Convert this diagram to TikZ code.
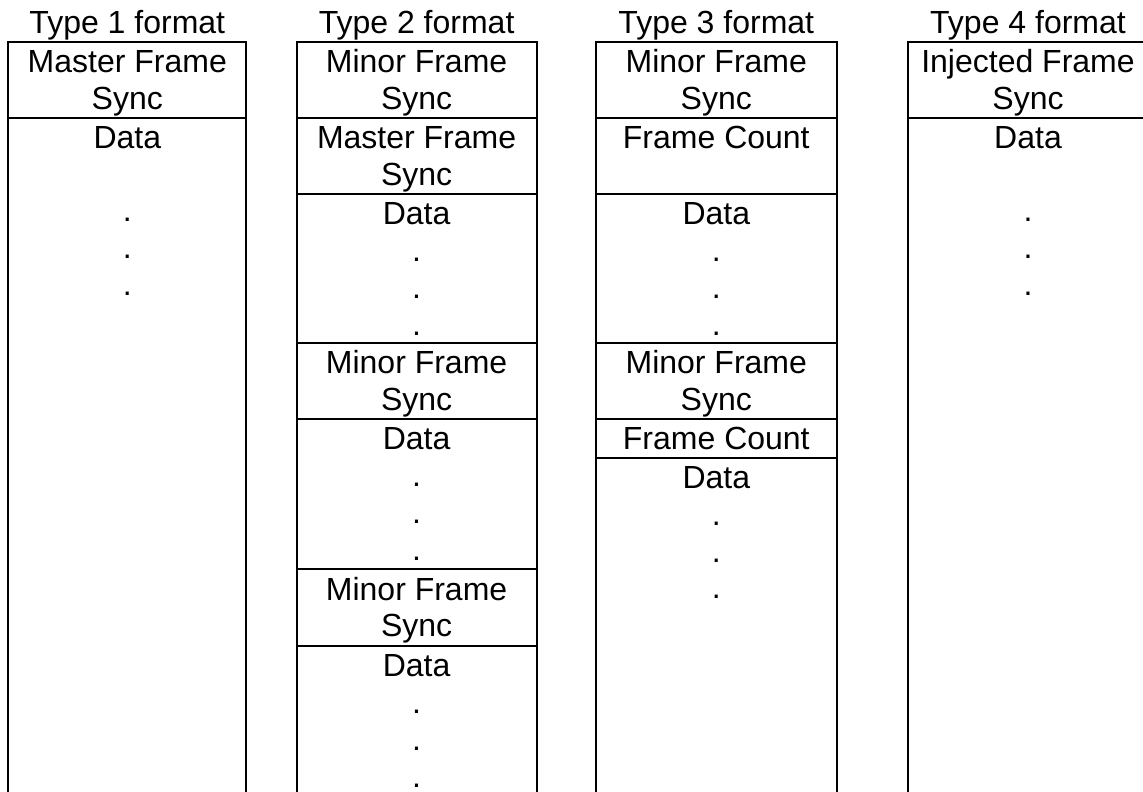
\documentclass[tikz,border=0pt]{standalone}
\usepackage{fontspec}
\setmainfont{Liberation Sans}
\begin{document}
\begin{tikzpicture}[x=1pt,y=-1pt,
  frame/.style={line width=2pt, line cap=rect},
  txt/.style={anchor=north, inner sep=0pt, outer sep=0pt, align=center,
    font=\fontsize{32}{36.8}\selectfont, yshift=-4.94pt},
  head/.style={anchor=north, inner sep=0pt, outer sep=0pt, align=center,
    font=\fontsize{32}{36.8}\selectfont, yshift=-7.6pt}]
\useasboundingbox (0,0) rectangle (1143,792);
\clip (0,0) rectangle (1143,792);
% headings
\node[head] (h1) at (127.3,0) {\strut Type 1 format};
\node[head] (h2) at (416.6,0) {\strut Type 2 format};
\node[head] (h3) at (716.3,0) {\strut Type 3 format};
\node[head] (h4) at (1028,0) {\strut Type 4 format};
% column 1
\draw[frame] (8.3,800) -- (8.3,41.7) -- (246.3,41.7) -- (246.3,800);
\draw[frame] (8.3,117.5) -- (246.3,117.5);
\node[txt] (c1a) at (127.3,41.7) {\strut Master Frame\\\strut Sync};
\node[txt] (c1b) at (127.3,117.5) {\strut Data\\\strut\\\strut.\\\strut.\\\strut.};
% column 2
\draw[frame] (296.7,800) -- (296.7,41.7) -- (536.5,41.7) -- (536.5,800);
\foreach \yy in {117.5,194,342.7,419,569.3,646}
  \draw[frame] (296.7,\yy) -- (536.5,\yy);
\node[txt] (c2a) at (416.6,41.7) {\strut Minor Frame\\\strut Sync};
\node[txt] (c2b) at (416.6,117.5) {\strut Master Frame\\\strut Sync};
\node[txt] (c2c) at (416.6,194) {\strut Data\\\strut.\\\strut.\\\strut.};
\node[txt] (c2d) at (416.6,342.7) {\strut Minor Frame\\\strut Sync};
\node[txt] (c2e) at (416.6,419) {\strut Data\\\strut.\\\strut.\\\strut.};
\node[txt] (c2f) at (416.6,569.3) {\strut Minor Frame\\\strut Sync};
\node[txt] (c2g) at (416.6,646) {\strut Data\\\strut.\\\strut.\\\strut.};
% column 3
\draw[frame] (596,800) -- (596,41.7) -- (836.7,41.7) -- (836.7,800);
\foreach \yy in {117.5,194,342.7,419,457.7}
  \draw[frame] (596,\yy) -- (836.7,\yy);
\node[txt] (c3a) at (716.3,41.7) {\strut Minor Frame\\\strut Sync};
\node[txt] (c3b) at (716.3,117.5) {\strut Frame Count};
\node[txt] (c3c) at (716.3,194) {\strut Data\\\strut.\\\strut.\\\strut.};
\node[txt] (c3d) at (716.3,342.7) {\strut Minor Frame\\\strut Sync};
\node[txt] (c3e) at (716.3,419) {\strut Frame Count};
\node[txt] (c3f) at (716.3,457.7) {\strut Data\\\strut.\\\strut.\\\strut.};
% column 4
\draw[frame] (908.3,800) -- (908.3,41.7) -- (1148,41.7) -- (1148,800);
\draw[frame] (908.3,117.5) -- (1148,117.5);
\node[txt] (c4a) at (1028,41.7) {\strut Injected Frame\\\strut Sync};
\node[txt] (c4b) at (1028,117.5) {\strut Data\\\strut\\\strut.\\\strut.\\\strut.};
\end{tikzpicture}
\end{document}
